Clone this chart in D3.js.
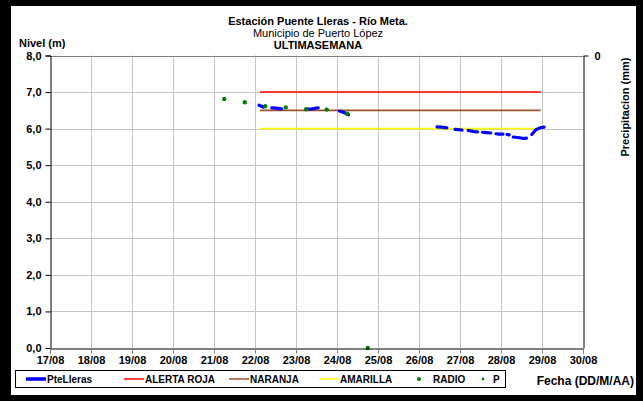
<!DOCTYPE html>
<html><head><meta charset="utf-8">
<script src="https://cdn.jsdelivr.net/npm/d3@7"></script>
<style>body{margin:0;background:#fff}svg{display:block}text{font-family:"Liberation Sans",Arial,sans-serif}</style>
</head><body><svg id="c" width="643" height="401"></svg>
<script>
// x values are days since 17/08 00:00
const dayLabels = ["17/08","18/08","19/08","20/08","21/08","22/08","23/08","24/08","25/08","26/08","27/08","28/08","29/08","30/08"];
const levelTicks = [0,1,2,3,4,5,6,7,8];
const precipTicks = [0];
const pteDays = [5.10,5.20,null,5.41,5.51,5.65,null,6.24,6.39,6.54,null,7.06,7.17,7.28,null,
  9.44,9.55,9.68,null,9.88,10.0,10.05,null,10.2,10.35,10.43,null,10.55,10.65,10.75,null,10.88,10.95,11.05,null,
  11.15,11.2,null,11.3,11.45,11.55,11.62,null,11.75,11.85,11.95,12.05];
const pteVals = [6.64,6.59,null,6.57,6.56,6.54,null,6.53,6.54,6.57,null,6.48,6.44,6.38,null,
  6.05,6.04,6.02,null,5.98,5.97,5.96,null,5.95,5.92,5.91,null,5.90,5.89,5.88,null,5.86,5.85,5.85,null,
  5.84,5.83,null,5.77,5.75,5.73,5.74,null,5.84,5.97,6.02,6.04];
const radioDays = [4.25,4.75,5.25,5.75,6.25,6.75,7.25,7.75];
const radioVals = [6.81,6.72,6.61,6.58,6.53,6.52,6.41,0.0];
const alertStart = 5.12, alertEnd = 11.97;
const alertRoja = 7.0, alertNaranja = 6.5, alertAmarilla = 6.0;

const svg = d3.select("#c");
const W = 643, H = 401;
// black frame
svg.append("rect").attr("x",0).attr("y",0).attr("width",W).attr("height",H).attr("fill","#000");
svg.append("rect").attr("x",11).attr("y",6).attr("width",W-11-7).attr("height",H-6-6).attr("fill","#fff");

const L = 50, R = 583, T = 55.5, B = 348;
const x = d3.scaleLinear().domain([0,13]).range([L,R]);
const y = d3.scaleLinear().domain([0,8]).range([B,T]);

const g = svg.append("g");
// grid
g.selectAll(".vg").data(d3.range(1,13)).join("line")
 .attr("x1",d=>x(d)+0.5).attr("x2",d=>x(d)+0.5).attr("y1",T).attr("y2",B)
 .attr("stroke","#c4c4c4").attr("stroke-width",1);
g.selectAll(".hg").data(levelTicks.slice(1,8)).join("line")
 .attr("x1",L).attr("x2",R).attr("y1",d=>Math.round(y(d))+0.5).attr("y2",d=>Math.round(y(d))+0.5)
 .attr("stroke","#c4c4c4").attr("stroke-width",1);
// top border of plot
g.append("line").attr("x1",L).attr("x2",R).attr("y1",Math.round(T)+0.5).attr("y2",Math.round(T)+0.5).attr("stroke","#808080");

// alert lines
[[alertRoja,"#ff0000"],[alertNaranja,"#a0522d"],[alertAmarilla,"#ffff00"]].forEach(([v,c])=>{
  g.append("line").attr("x1",x(alertStart)).attr("x2",x(alertEnd)).attr("y1",y(v)).attr("y2",y(v))
   .attr("stroke",c).attr("stroke-width",1.6);
});

// PteLleras
const pts = pteDays.map((d,i)=>({d, v: pteVals[i]}));
const line = d3.line().defined(p=>p.d!==null && p.v!==null).x(p=>x(p.d)).y(p=>y(p.v));
g.append("path").attr("d",line(pts)).attr("fill","none").attr("stroke","#0000ff")
 .attr("stroke-width",3.2).attr("stroke-linecap","round").attr("stroke-linejoin","round");

// axes
const yAxis = d3.axisLeft(y).tickValues(levelTicks).tickSize(5).tickFormat(d=>d3.format(".1f")(d).replace(".",","));
const ya = svg.append("g").attr("transform",`translate(${L+0.5},0)`).call(yAxis);
ya.select(".domain").attr("stroke","#000");
ya.selectAll(".tick line").attr("stroke","#000");
ya.selectAll(".tick text").attr("font-size",11).attr("font-weight","bold").attr("fill","#000").attr("x",-9);

const xAxis = d3.axisBottom(x).tickValues(d3.range(0,14)).tickSize(5).tickFormat(d=>dayLabels[d]);
const xa = svg.append("g").attr("transform",`translate(0,${Math.round(B)+0.5})`).call(xAxis);
xa.select(".domain").attr("stroke","#000");
xa.selectAll(".tick line").attr("stroke","#808080");
xa.selectAll(".tick text").attr("font-size",11).attr("font-weight","bold").attr("fill","#000").attr("y",8);

// right axis
const yR = d3.scaleLinear().domain([0,1]).range([T,B]);
const ra = svg.append("g").attr("transform",`translate(${R+0.5},0)`)
 .call(d3.axisRight(yR).tickValues(precipTicks).tickSize(5).tickSizeOuter(0).tickFormat(d3.format("d")));
ra.select(".domain").attr("stroke","#000");
ra.selectAll(".tick text").attr("font-size",11).attr("font-weight","bold").attr("fill","#000").attr("x",11);

// radio dots
g.selectAll(".rd").data(radioDays.map((d,i)=>({d,v:radioVals[i]}))).join("circle")
 .attr("cx",p=>x(p.d)).attr("cy",p=>y(p.v)).attr("r",2.2).attr("fill","#008000");

// titles
const t = svg.append("g").attr("text-anchor","middle").attr("fill","#000");
t.append("text").attr("x",318).attr("y",25).attr("font-size",11).attr("font-weight","bold").text("Estación Puente Lleras - Río Meta.");
t.append("text").attr("x",318).attr("y",37).attr("font-size",11).text("Municipio de Puerto López");
t.append("text").attr("x",318).attr("y",49).attr("font-size",11).attr("font-weight","bold").text("ULTIMASEMANA");
svg.append("text").attr("x",19).attr("y",47).attr("font-size",11).attr("font-weight","bold").text("Nivel (m)");
svg.append("text").attr("transform","translate(629,107) rotate(-90)").attr("text-anchor","middle")
 .attr("font-size",11).attr("font-weight","bold").text("Precipitacion (mm)");
svg.append("text").attr("x",634).attr("y",385).attr("text-anchor","end").attr("font-size",12).attr("font-weight","bold").text("Fecha (DD/M/AA)");

// legend
const lg = svg.append("g");
lg.append("rect").attr("x",15.5).attr("y",370.5).attr("width",490).attr("height",17).attr("fill","#fff").attr("stroke","#000");
const items = [
  {t:"PteLleras", type:"line", c:"#0000ff", w:3.5, x0:26},
  {t:"ALERTA ROJA", type:"line", c:"#ff0000", w:1.5, x0:124},
  {t:"NARANJA", type:"line", c:"#a0522d", w:1.5, x0:229},
  {t:"AMARILLA", type:"line", c:"#ffff00", w:1.5, x0:319},
  {t:"RADIO", type:"dot", c:"#008000", r:2, x0:419},
  {t:"P", type:"dot", c:"#008000", r:1.4, x0:483}
];
items.forEach(it=>{
  const cy = 379;
  if(it.type==="line"){
    lg.append("line").attr("x1",it.x0).attr("x2",it.x0+20).attr("y1",cy).attr("y2",cy).attr("stroke",it.c).attr("stroke-width",it.w);
    lg.append("text").attr("x",it.x0+21).attr("y",cy+3.5).attr("font-size",10).attr("font-weight","bold").text(it.t);
  } else {
    lg.append("circle").attr("cx",it.x0).attr("cy",cy).attr("r",it.r).attr("fill",it.c);
    lg.append("text").attr("x",it.x0+(it.t==="P"?10:14)).attr("y",cy+3.5).attr("font-size",10).attr("font-weight","bold").text(it.t);
  }
});
</script></body></html>
